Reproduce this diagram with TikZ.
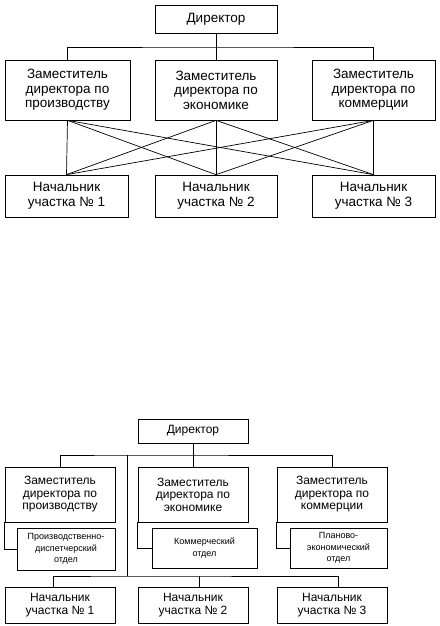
\documentclass[tikz,border=0pt]{standalone}
\usepackage{fontspec}
\setmainfont{Liberation Sans}
\usepackage{tikz}
\usetikzlibrary{calc}

\begin{document}
\begin{tikzpicture}[x=1pt, y=-1pt, line width=0.7pt,
		box/.style={draw, rectangle, inner sep=0pt, align=center},
		bigtext/.style={font=\fontsize{13.5}{14.5}\selectfont},
		midtext/.style={font=\fontsize{12}{12.5}\selectfont},
		smalltext/.style={font=\fontsize{9}{11.5}\selectfont}]
			%%%%% START %%%%%
			\useasboundingbox (0, 0) rectangle (439, 626);
			
			%%%%% first scheme %%%%%
			\node[box, bigtext, minimum width=122pt, minimum height=28pt] (dirA) at (216, 19) {Директор};
			
			\node[box, bigtext, minimum width=125pt, minimum height=60pt] (prodA) at (67.5, 90) {Заместитель\\директора по\\производству};
			\node[box, bigtext, minimum width=122pt, minimum height=60pt] (econA) at (216, 90) {Заместитель\\директора по\\экономике};
			\node[box, bigtext, minimum width=123pt, minimum height=60pt] (commA) at (373.5, 90) {Заместитель\\директора по\\коммерции};
			
			\node[box, bigtext, minimum width=123pt, minimum height=42pt] (headA1) at (66.5, 196) {Начальник\\участка № 1};
			\node[box, bigtext, minimum width=122pt, minimum height=42pt] (headA2) at (216, 196) {Начальник\\участка № 2};
			\node[box, bigtext, minimum width=123pt, minimum height=42pt] (headA3) at (373.5, 196) {Начальник\\участка № 3};
			
			\coordinate (busA) at (216, 47);
			\draw (dirA.south) -- (econA.north);
			\draw (prodA.north) |- (busA) -| (commA.north);
			
			\foreach \from in {prodA, econA, commA}
				\foreach \to in {headA1, headA2, headA3}
					\draw (\from.south) -- (\to.north);
			
			%%%%% second scheme %%%%%
			\node[box, midtext, minimum width=110pt, minimum height=24pt] (dirB) at (193, 431) {Директор};
			
			\node[box, midtext, minimum width=110pt, minimum height=55pt] (prodB) at (60, 494.5) {Заместитель\\директора по\\производству};
			\node[box, midtext, minimum width=110pt, minimum height=55pt] (econB) at (193, 494.5) {Заместитель\\директора по\\экономике};
			\node[box, midtext, minimum width=110pt, minimum height=55pt] (commB) at (332, 494.5) {Заместитель\\директора по\\коммерции};
			
			\node[box, smalltext, minimum width=98pt, minimum height=42pt] (deptP) at (66, 549) {Производственно-\\диспетчерский\\отдел};
			\node[box, smalltext, minimum width=105pt, minimum height=40pt] (deptK) at (204.5, 548) {Коммерческий\\отдел};
			\node[box, smalltext, minimum width=97pt, minimum height=40pt] (deptE) at (338.5, 548) {Планово-\\экономический\\отдел};
			
			\node[box, midtext, minimum width=110pt, minimum height=36pt] (headB1) at (60, 605) {Начальник\\участка № 1};
			\node[box, midtext, minimum width=110pt, minimum height=36pt] (headB2) at (193, 605) {Начальник\\участка № 2};
			\node[box, midtext, minimum width=110pt, minimum height=36pt] (headB3) at (332, 605) {Начальник\\участка № 3};
			
			\coordinate (busB) at (127, 455);
			\coordinate (busC) at (127, 576);
			\draw (dirB.south) -- (econB.north);
			\draw (prodB.north) |- (busB) -| (commB.north);
			\draw (busB) -- (busC);
			
			\draw (prodB.south west) |- (deptP.west);
			\draw (econB.south west) |- (deptK.west);
			\draw (commB.south west) |- (deptE.west);
			
			\draw ([xshift=-7pt]headB1.north) |- (busC) -| ([xshift=6pt]headB3.north);
			\draw ([xshift=6pt]headB2.north) -- ([xshift=6pt]headB2.north |- busC);
			%%%%% END %%%%%
\end{tikzpicture}
\end{document}
